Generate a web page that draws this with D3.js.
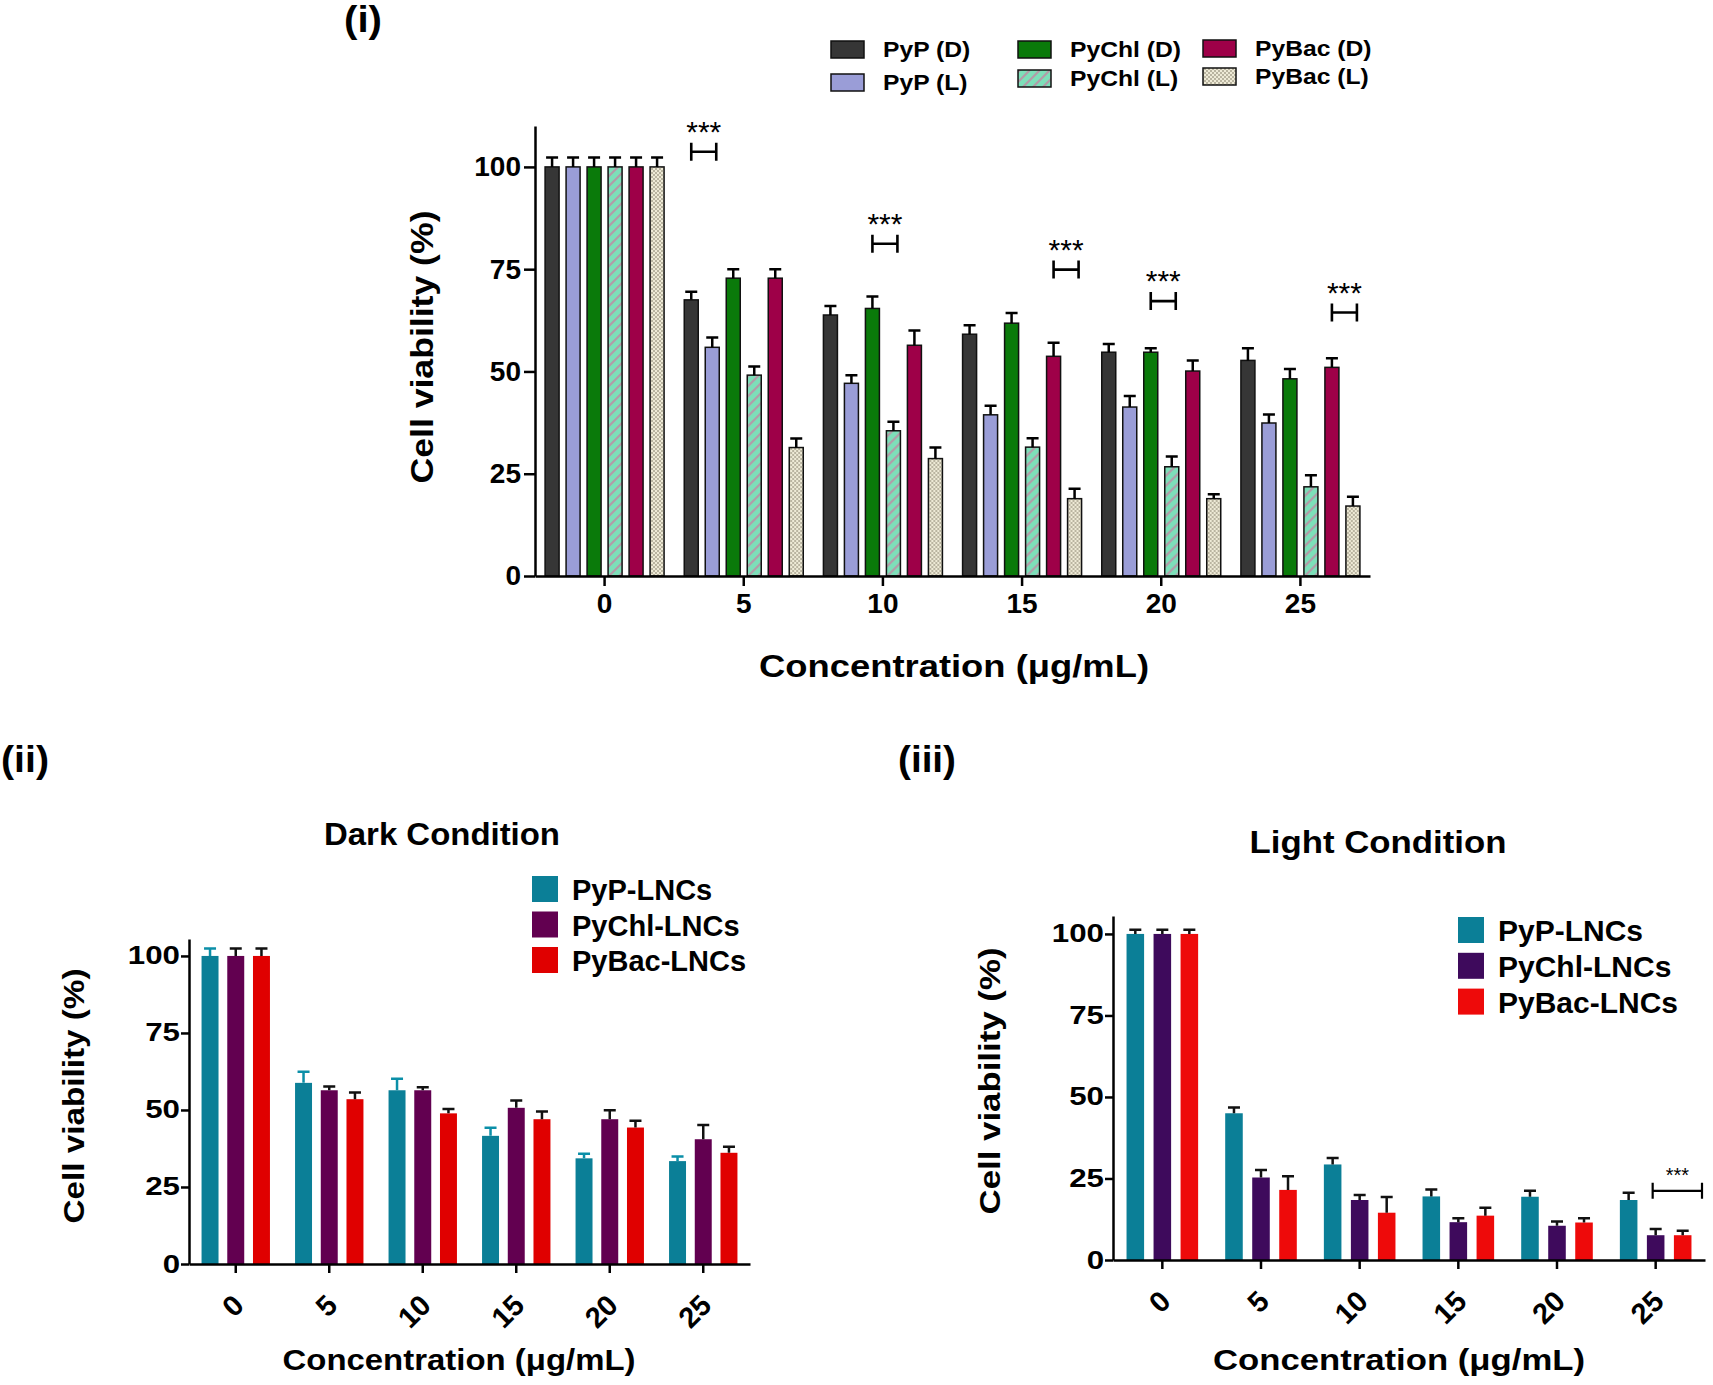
<!DOCTYPE html>
<html>
<head>
<meta charset="utf-8">
<script src="https://cdn.jsdelivr.net/npm/d3@7"></script>
<style>
  body { margin: 0; background: #fff; }
  svg text { font-family: "Liberation Sans", Arial, sans-serif; font-weight: bold; fill: #000; }
  .axis path, .axis line { stroke: #000; stroke-width: 2.5; }
</style>
</head>
<body>
<div id="chart"></div>
<script>
// cell viability figure: (i) free compounds, (ii) LNCs dark, (iii) LNCs light

// categories
var concLabels = ["0", "5", "10", "15", "20", "25"];
var yTicks = [0, 25, 50, 75, 100];

// panel (i) series, D = dark, L = light
var freeSeries = ["PyP (D)", "PyP (L)", "PyChl (D)", "PyChl (L)", "PyBac (D)", "PyBac (L)"];
var pypD = [100, 67.5, 63.8, 59.1, 54.7, 52.7];
var pypDErr = [2.3, 2.0, 2.2, 2.2, 2.0, 3.0];
var pypL = [100, 55.9, 47.1, 39.4, 41.3, 37.4];
var pypLErr = [2.3, 2.4, 2.0, 2.2, 2.7, 2.1];
var pychlD = [100, 72.8, 65.4, 61.8, 54.7, 48.2];
var pychlDErr = [2.3, 2.2, 2.9, 2.5, 1.0, 2.4];
var pychlL = [100, 49.1, 35.5, 31.5, 26.7, 21.8];
var pychlLErr = [2.3, 2.1, 2.2, 2.2, 2.5, 2.8];
var pybacD = [100, 72.8, 56.4, 53.7, 50.1, 51.0];
var pybacDErr = [2.3, 2.2, 3.6, 3.3, 2.6, 2.2];
var pybacL = [100, 31.4, 28.7, 18.9, 18.9, 17.1];
var pybacLErr = [2.3, 2.2, 2.7, 2.4, 1.1, 2.3];

// significance brackets in (i): group, pair of series, level
var sigGroups = ["5", "10", "15", "20", "25"];
var sigPairs = [[0, 1], [2, 3], [4, 5], [2, 3], [4, 5]];
var sigLevels = [103.7, 81.2, 74.9, 67.2, 64.4];

// panels (ii) and (iii)
var lncSeries = ["PyP-LNCs", "PyChl-LNCs", "PyBac-LNCs"];
var darkPyP = [100, 58.8, 56.4, 41.6, 34.3, 33.4];
var darkPyPErr = [2.4, 3.6, 3.7, 2.6, 1.5, 1.5];
var darkPyChl = [100, 56.4, 56.4, 50.7, 47.0, 40.5];
var darkPyChlErr = [2.4, 1.2, 1.0, 2.4, 2.9, 4.6];
var darkPyBac = [100, 53.5, 48.9, 47.0, 44.3, 36.1];
var darkPyBacErr = [2.4, 2.2, 1.4, 2.5, 2.2, 2.0];
var lightPyP = [100, 45.0, 29.3, 19.5, 19.4, 18.4];
var lightPyPErr = [1.3, 1.8, 2.0, 2.1, 1.8, 2.2];
var lightPyChl = [100, 25.3, 18.4, 11.6, 10.5, 7.6];
var lightPyChlErr = [1.3, 2.3, 1.5, 1.2, 1.3, 1.9];
var lightPyBac = [100, 21.5, 14.5, 13.6, 11.5, 7.6];
var lightPyBacErr = [1.3, 4.2, 4.8, 2.4, 1.3, 1.4];

var svg = d3.select("#chart").append("svg")
  .attr("width", 1713)
  .attr("height", 1385);

var defs = svg.append("defs");

// striped fill for PyChl (L)
var stripe = defs.append("pattern")
  .attr("id", "stripe")
  .attr("patternUnits", "userSpaceOnUse")
  .attr("width", 10).attr("height", 10);
stripe.append("rect").attr("width", 10).attr("height", 10).attr("fill", "#7ddfb9");
stripe.append("path")
  .attr("d", "M0,10 L10,0 M-2,2 L2,-2 M8,12 L12,8")
  .attr("stroke", "#b39ba8").attr("stroke-width", 2.2);

// checker fill for PyBac (L)
var checker = defs.append("pattern")
  .attr("id", "checker")
  .attr("patternUnits", "userSpaceOnUse")
  .attr("width", 4).attr("height", 4);
checker.append("rect").attr("width", 4).attr("height", 4).attr("fill", "#eeead6");
checker.append("rect").attr("width", 2).attr("height", 2).attr("fill", "#b9b4a0");
checker.append("rect").attr("x", 2).attr("y", 2).attr("width", 2).attr("height", 2).attr("fill", "#b9b4a0");

var freeFill = ["#363636", "#9a9dd7", "#0a7a0a", "url(#stripe)", "#9e0048", "url(#checker)"];

// stretch text along its direction (the source fonts run wide)
function stretch(sel, k) {
  sel.each(function () {
    var w = this.getComputedTextLength();
    d3.select(this).attr("textLength", w * k).attr("lengthAdjust", "spacingAndGlyphs");
  });
}

function fitText(sel, len) {
  sel.attr("textLength", len).attr("lengthAdjust", "spacingAndGlyphs");
}

// ---------- panel (i) ----------
var freeValues = [pypD, pypL, pychlD, pychlL, pybacD, pybacL];
var freeErrs = [pypDErr, pypLErr, pychlDErr, pychlLErr, pybacDErr, pybacLErr];

var x0 = d3.scaleBand().domain(concLabels).range([535, 1370]);
var x1 = d3.scaleBand().domain(d3.range(freeSeries.length))
  .range([(x0.bandwidth() - 119) / 2, (x0.bandwidth() + 119) / 2])
  .paddingInner(0.333);
var y = d3.scaleLinear().domain([0, 110]).range([576, 126]);

var g1 = svg.append("g");

var groups = g1.selectAll("g.grp")
  .data(concLabels)
  .enter().append("g")
  .attr("class", "grp")
  .attr("transform", d => `translate(${x0(d)},0)`);

groups.selectAll("rect")
  .data((d, i) => freeSeries.map((s, j) => ({ j: j, v: freeValues[j][i], e: freeErrs[j][i] })))
  .enter().append("rect")
  .attr("x", d => x1(d.j))
  .attr("y", d => y(d.v))
  .attr("width", x1.bandwidth())
  .attr("height", d => y(0) - y(d.v))
  .attr("fill", d => freeFill[d.j])
  .attr("stroke", "#111")
  .attr("stroke-width", 1.5);

// error bars (upper only)
groups.selectAll("path.err")
  .data((d, i) => freeSeries.map((s, j) => ({ j: j, v: freeValues[j][i], e: freeErrs[j][i] })))
  .enter().append("path")
  .attr("class", "err")
  .attr("d", d => {
    var cx = x1(d.j) + x1.bandwidth() / 2;
    return `M${cx},${y(d.v)}V${y(d.v + d.e)}M${cx - 6},${y(d.v + d.e)}H${cx + 6}`;
  })
  .attr("stroke", "#000")
  .attr("stroke-width", 2.5)
  .attr("fill", "none");

// axes
var yAxis1 = g1.append("g")
  .attr("class", "axis")
  .attr("transform", "translate(535,0)")
  .call(d3.axisLeft(y).tickValues(yTicks).tickSize(11).tickPadding(3).tickSizeOuter(0));
yAxis1.selectAll("text").style("font-size", "28px");

var xAxis1 = g1.append("g")
  .attr("class", "axis")
  .attr("transform", "translate(0,576)")
  .call(d3.axisBottom(x0).tickSize(10).tickPadding(7).tickSizeOuter(0));
xAxis1.selectAll("text").style("font-size", "28px");
svg.selectAll(".axis text").attr("font-family", null);

// brackets with stars
sigGroups.forEach(function (grp, i) {
  var a = x0(grp) + x1(sigPairs[i][0]) + x1.bandwidth() / 2;
  var b = x0(grp) + x1(sigPairs[i][1]) + x1.bandwidth() / 2 + 4;
  var ly = y(sigLevels[i]);
  g1.append("path")
    .attr("d", `M${a},${ly - 9}V${ly + 9}M${a},${ly}H${b}M${b},${ly - 9}V${ly + 9}`)
    .attr("stroke", "#000").attr("stroke-width", 2.6).attr("fill", "none");
  g1.append("text")
    .attr("x", (a + b) / 2)
    .attr("y", ly - 10)
    .attr("text-anchor", "middle")
    .style("font-weight", "normal")
    .style("font-size", "30px")
    .text("***");
});

// titles
g1.append("text")
  .attr("transform", "translate(433,347) rotate(-90)")
  .attr("text-anchor", "middle")
  .style("font-size", "31px")
  .text("Cell viability (%)")
  .call(fitText, 273);

g1.append("text")
  .attr("x", 954).attr("y", 677)
  .attr("text-anchor", "middle")
  .style("font-size", "31px")
  .text("Concentration (\u03bcg/mL)")
  .call(fitText, 390);

svg.append("text")
  .attr("x", 344).attr("y", 32)
  .style("font-size", "36px")
  .text("(i)")
  .call(fitText, 38);

// legend (i), three columns of two
var legCols = [831, 1018, 1203];
var legRows = [[41, 74], [41, 70], [40, 68]];
freeSeries.forEach(function (s, j) {
  var c = Math.floor(j / 2), r = j % 2;
  var lx = legCols[c], ly = legRows[c][r];
  svg.append("rect")
    .attr("x", lx).attr("y", ly)
    .attr("width", 33).attr("height", 17)
    .attr("fill", freeFill[j])
    .attr("stroke", "#111").attr("stroke-width", 1.5);
  svg.append("text")
    .attr("x", lx + 52).attr("y", ly + 16)
    .style("font-size", "22px")
    .text(s)
    .call(stretch, 1.12);
});

// ---------- panels (ii) and (iii) ----------
function lncPanel(cfg) {
  var g = svg.append("g");
  var xb = d3.scaleBand().domain(concLabels).range([cfg.x0, cfg.x1]);
  var xs = d3.scaleBand().domain(d3.range(lncSeries.length))
    .range([(xb.bandwidth() - cfg.groupW) / 2, (xb.bandwidth() + cfg.groupW) / 2])
    .paddingInner(cfg.pad);
  var ys = d3.scaleLinear().domain([0, 105.5]).range([cfg.y0, cfg.yTop]);

  var grp = g.selectAll("g.grp")
    .data(concLabels)
    .enter().append("g")
    .attr("transform", d => `translate(${xb(d)},0)`);

  var rows = (d, i) => lncSeries.map((s, j) => ({ j: j, v: cfg.values[j][i], e: cfg.errs[j][i] }));

  grp.selectAll("rect")
    .data(rows)
    .enter().append("rect")
    .attr("x", d => xs(d.j))
    .attr("y", d => ys(d.v))
    .attr("width", xs.bandwidth())
    .attr("height", d => ys(0) - ys(d.v))
    .attr("fill", d => cfg.colors[d.j]);

  grp.selectAll("path")
    .data(rows)
    .enter().append("path")
    .attr("d", d => {
      var cx = xs(d.j) + xs.bandwidth() / 2;
      return `M${cx},${ys(d.v)}V${ys(d.v + d.e)}M${cx - 6},${ys(d.v + d.e)}H${cx + 6}`;
    })
    .attr("stroke", d => cfg.errColors[d.j])
    .attr("stroke-width", 2.5)
    .attr("fill", "none");

  var ya = g.append("g")
    .attr("class", "axis")
    .attr("transform", `translate(${cfg.x0},0)`)
    .call(d3.axisLeft(ys).tickValues(yTicks).tickSize(8).tickPadding(1).tickSizeOuter(0));
  ya.selectAll("text").attr("font-family", null).style("font-size", "25px").call(stretch, 1.25);

  var xa = g.append("g")
    .attr("class", "axis")
    .attr("transform", `translate(0,${cfg.y0})`)
    .call(d3.axisBottom(xb).tickSize(9).tickSizeOuter(0));
  xa.selectAll("text")
    .attr("font-family", null)
    .attr("x", 0).attr("y", 0).attr("dy", null)
    .attr("text-anchor", "end")
    .attr("transform", "translate(10,43) rotate(-45)")
    .style("font-size", "29px");

  // legend
  lncSeries.forEach(function (s, j) {
    var ly = cfg.legY + j * cfg.legStep;
    g.append("rect")
      .attr("x", cfg.legX).attr("y", ly)
      .attr("width", 26).attr("height", 26)
      .attr("fill", cfg.colors[j]);
    g.append("text")
      .attr("x", cfg.legX + 40).attr("y", ly + 24)
      .style("font-size", cfg.legFont + "px")
      .text(s);
  });

  g.append("text")
    .attr("x", cfg.titleX).attr("y", cfg.titleY)
    .attr("text-anchor", "middle")
    .style("font-size", "31px")
    .text(cfg.title)
    .call(fitText, cfg.titleW);

  g.append("text")
    .attr("transform", `translate(${cfg.yTitleX + 8},${cfg.yTitleY}) rotate(-90)`)
    .attr("text-anchor", "middle")
    .style("font-size", "30px")
    .text("Cell viability (%)")
    .call(fitText, cfg.yTitleLen);

  g.append("text")
    .attr("x", cfg.xTitleX).attr("y", cfg.xTitleY)
    .attr("text-anchor", "middle")
    .style("font-size", "29px")
    .text("Concentration (\u03bcg/mL)")
    .call(fitText, cfg.xTitleLen);

  svg.append("text")
    .attr("x", cfg.tagX).attr("y", 772)
    .style("font-size", "36px")
    .text(cfg.tag)
    .call(fitText, cfg.tagW);

  return { g: g, xb: xb, xs: xs, ys: ys };
}

lncPanel({
  tag: "(ii)", tagX: 1, tagW: 48,
  title: "Dark Condition", titleX: 442, titleY: 845, titleW: 236,
  values: [darkPyP, darkPyChl, darkPyBac],
  errs: [darkPyPErr, darkPyChlErr, darkPyBacErr],
  colors: ["#0b7f97", "#620050", "#e00000"],
  errColors: ["#0b8fa8", "#111", "#111"],
  x0: 189, x1: 750, y0: 1264, yTop: 939,
  groupW: 68.4, pad: 0.34,
  legX: 532, legY: 876, legStep: 35.5, legFont: 29,
  yTitleX: 76, yTitleY: 1096, yTitleLen: 255,
  xTitleX: 459, xTitleY: 1370, xTitleLen: 353
});

var light = lncPanel({
  tag: "(iii)", tagX: 898, tagW: 58,
  title: "Light Condition", titleX: 1378, titleY: 853, titleW: 257,
  values: [lightPyP, lightPyChl, lightPyBac],
  errs: [lightPyPErr, lightPyChlErr, lightPyBacErr],
  colors: ["#0b7f97", "#3e0a5c", "#ee0a0a"],
  errColors: ["#111", "#111", "#111"],
  x0: 1113, x1: 1705, y0: 1260, yTop: 916,
  groupW: 71.6, pad: 0.35,
  legX: 1458, legY: 917, legStep: 35.8, legFont: 30,
  yTitleX: 992, yTitleY: 1081, yTitleLen: 267,
  xTitleX: 1399, xTitleY: 1370, xTitleLen: 372
});

// bracket at 25 in (iii)
var bx0 = light.xb("25") + light.xs(1) + light.xs.bandwidth() / 2 - 3;
var bx1 = 1702;
var by = light.ys(21.2);
light.g.append("path")
  .attr("d", `M${bx0},${by - 8}V${by + 8}M${bx0},${by}H${bx1}M${bx1},${by - 8}V${by + 8}`)
  .attr("stroke", "#000").attr("stroke-width", 2.2).attr("fill", "none");
light.g.append("text")
  .attr("x", (bx0 + bx1) / 2).attr("y", by - 9)
  .attr("text-anchor", "middle")
  .style("font-weight", "normal")
  .style("font-size", "20px")
  .text("***");
</script>
</body>
</html>
